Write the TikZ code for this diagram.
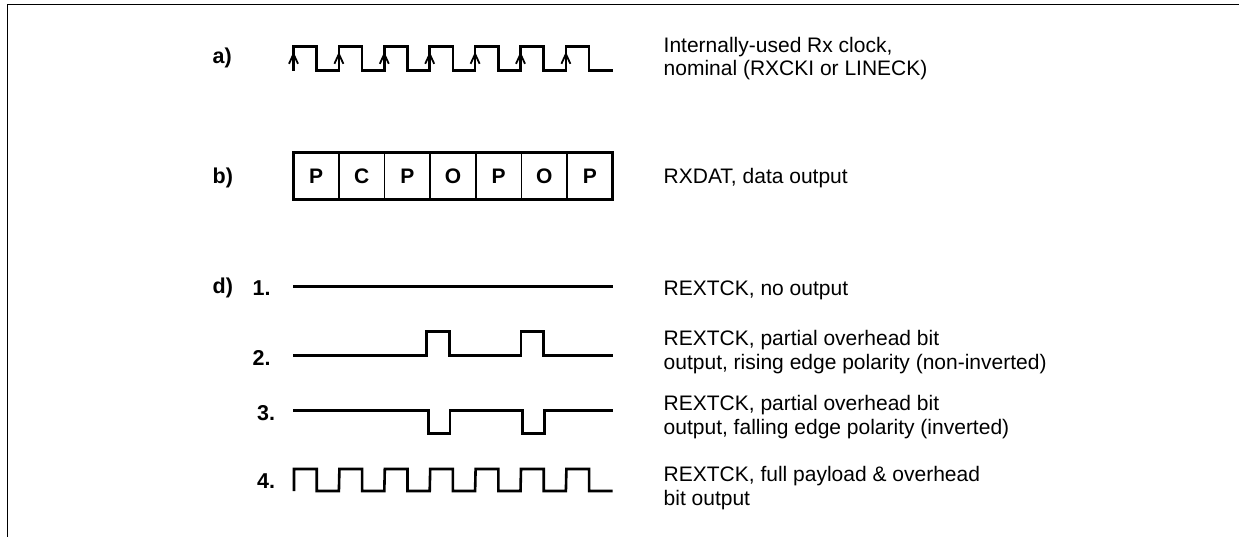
\documentclass[tikz,border=0pt]{standalone}
\usepackage{fontspec}
\setmainfont{Liberation Sans}
\tikzset{
  wave/.style={line width=2.6pt, line join=miter},
  tick/.style={line width=1.8pt},
  frame/.style={line width=1.2pt},
  desc/.style={anchor=base west, inner sep=0pt, font=\fontsize{21}{24}\selectfont},
  lbl/.style={anchor=base west, inner sep=0pt, font=\fontsize{21.5}{24}\selectfont\bfseries},
  cell/.style={anchor=base, inner sep=0pt, font=\fontsize{21}{24}\selectfont\bfseries}
}
\begin{document}
\begin{tikzpicture}[x=1pt,y=-1pt]
\useasboundingbox (0,0) rectangle (1239,537);
\fill[white] (0,0) rectangle (1239,537);
% frame
\draw[frame] (7.5,537) -- (7.5,4.7) -- (1239,4.7);

% a) clock
\node[lbl] (la) at (212.5,63.3) {a)};
\draw[wave] (293.5,70.7) foreach \k in {0,...,6} {
   -- ({293.5+45.4*\k},46.7) -- ({316.7+45.4*\k},46.7)
   -- ({316.7+45.4*\k},70.7) -- ({338.9+45.4*\k},70.7) } -- (612.7,70.7);
\foreach \k in {0,...,6} {
  \draw[tick] ({293.5+45.4*\k-4.5},63.8) -- ({293.5+45.4*\k},54) -- ({293.5+45.4*\k+4.5},63.8);
}
\node[desc] (ta1) at (663.5,52.3) {Internally-used Rx clock,};
\node[desc] (ta2) at (663.5,76) {nominal (RXCKI or LINECK)};

% b) data
\node[lbl] (lb) at (212.5,183.3) {b)};
\draw[line width=2.6pt] (293.3,152.7) rectangle (612.7,199.3);
\foreach \i in {1,...,6} {
  \draw[line width=1.4pt] ({293.3+45.63*\i},152.7) -- ({293.3+45.63*\i},199.3);
}
\foreach \t [count=\i from 0] in {P,C,P,O,P,O,P} {
  \node[cell] (c\i) at ({293.3+45.63*\i+22.8},183.3) {\t};
}
\node[desc] (tb) at (663.5,183.3) {RXDAT, data output};

% d)
\node[lbl] (ld) at (212.5,293.3) {d)};
\node[lbl] (n1) at (252.5,295) {1.};
\draw[wave] (293.3,286.7) -- (612.7,286.7);
\node[desc] (td1) at (663.5,295.7) {REXTCK, no output};

\node[lbl] (n2) at (252.5,365) {2.};
\draw[wave] (293.3,355.7) -- (426.7,355.7) -- (426.7,331.7) -- (449.3,331.7) -- (449.3,355.7)
  -- (521,355.7) -- (521,331.7) -- (543.3,331.7) -- (543.3,355.7) -- (612.7,355.7);
\node[desc] (td2a) at (663.5,345.7) {REXTCK, partial overhead bit};
\node[desc] (td2b) at (663.5,369.5) {output, rising edge polarity (non-inverted)};

\node[lbl] (n3) at (257,420) {3.};
\draw[wave] (293.3,410.7) -- (428.3,410.7) -- (428.3,433.3) -- (450,433.3) -- (450,410.7)
  -- (522.3,410.7) -- (522.3,433.3) -- (544.3,433.3) -- (544.3,410.7) -- (612.7,410.7);
\node[desc] (td3a) at (663.5,410.5) {REXTCK, partial overhead bit};
\node[desc] (td3b) at (663.5,434.5) {output, falling edge polarity (inverted)};

\node[lbl] (n4) at (257,488) {4.};
\draw[wave] (294,491) foreach \k in {0,...,6} {
   -- ({294+45.4*\k},469) -- ({316.7+45.4*\k},469)
   -- ({316.7+45.4*\k},491) -- ({338.9+45.4*\k},491) } -- (612.7,491);
\node[desc] (td4a) at (663.5,481) {REXTCK, full payload \& overhead};
\node[desc] (td4b) at (663.5,505) {bit output};
\end{tikzpicture}
\end{document}
